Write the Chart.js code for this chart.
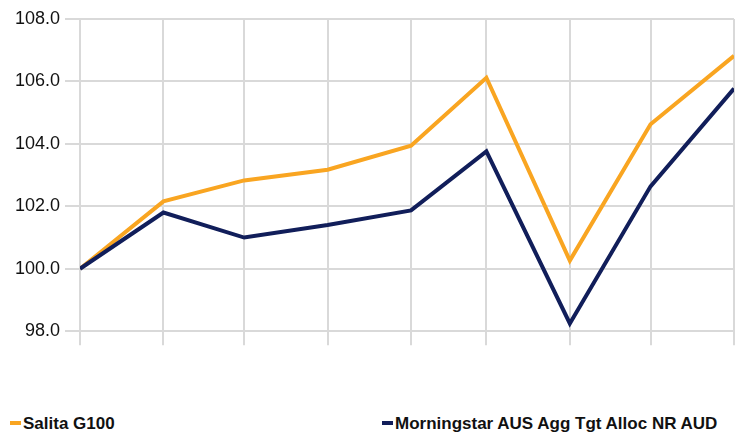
<!DOCTYPE html>
<html>
<head>
<meta charset="utf-8">
<script src="https://cdn.jsdelivr.net/npm/chart.js@4"></script>
<style>
  html, body { margin: 0; padding: 0; background: #fff; }
  body { width: 747px; height: 434px; position: relative; overflow: hidden; font-family: "Liberation Sans", Arial, sans-serif; }
  #wrap { position: absolute; left: 0; top: 0; width: 747px; height: 347px; }
  .leg { position: absolute; top: 414px; font-size: 17px; font-weight: bold; color: #111; white-space: nowrap; line-height: 20px; }
  .leg i { display: inline-block; width: 11px; height: 4px; vertical-align: middle; margin-right: 2px; position: relative; top: -2px; }
</style>
</head>
<body>
<div id="wrap"><canvas id="c"></canvas></div>
<div class="leg" style="left:10px"><i style="background:#F9A521"></i>Salita G100</div>
<div class="leg" style="left:382px"><i style="background:#111E5A"></i>Morningstar AUS Agg Tgt Alloc NR AUD</div>
<script>
// Month-end dates expressed as day offsets from the first point
const xDays = [0, 31, 61, 92, 123, 151, 182, 212, 243];
const seriesNames = ["Salita G100", "Morningstar AUS Agg Tgt Alloc NR AUD"];
const salita = [100.0, 102.16, 102.83, 103.17, 103.94, 106.12, 100.26, 104.63, 106.82];
const morningstar = [100.0, 101.80, 101.00, 101.40, 101.87, 103.76, 98.25, 102.64, 105.77];
const yTicks = [98, 100, 102, 104, 106, 108];

const toPts = arr => arr.map((v, i) => ({ x: xDays[i], y: v }));

new Chart(document.getElementById('c'), {
  type: 'line',
  data: {
    datasets: [
      { label: seriesNames[1], data: toPts(morningstar), borderColor: '#111E5A', borderWidth: 4, pointRadius: 0, tension: 0, fill: false },
      { label: seriesNames[0], data: toPts(salita), borderColor: '#F9A521', borderWidth: 4, pointRadius: 0, tension: 0, fill: false }
    ]
  },
  options: {
    responsive: true,
    maintainAspectRatio: false,
    animation: false,
    layout: { padding: { top: 19, right: 13, bottom: 0, left: 0 } },
    plugins: { legend: { display: false }, tooltip: { enabled: false } },
    scales: {
      x: {
        type: 'linear',
        min: xDays[0],
        max: xDays[xDays.length - 1],
        afterBuildTicks: s => { s.ticks = xDays.map(v => ({ value: v })); },
        afterFit: s => { s.height = 14; },
        ticks: { display: false },
        grid: { color: '#d9d9d9', lineWidth: 2, tickLength: 14, drawTicks: true },
        border: { display: false }
      },
      y: {
        min: 98,
        max: 108,
        afterBuildTicks: s => { s.ticks = yTicks.map(v => ({ value: v })); },
        afterFit: s => { s.width = 80; },
        ticks: {
          padding: 5,
          color: '#111',
          font: { family: '"Liberation Sans", Arial, sans-serif', size: 18 },
          callback: v => Number(v).toFixed(1)
        },
        grid: { color: '#d9d9d9', lineWidth: 2, tickLength: 15, drawTicks: true },
        border: { display: false }
      }
    }
  }
});
</script>
</body>
</html>
